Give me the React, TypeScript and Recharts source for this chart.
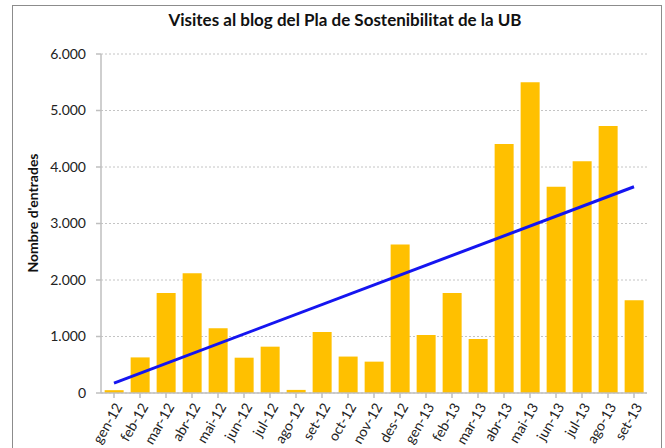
import { Bar, BarChart, CartesianGrid, ReferenceLine, XAxis, YAxis } from "recharts"

const months = [
  "gen-12", "feb-12", "mar-12", "abr-12", "mai-12", "jun-12", "jul-12",
  "ago-12", "set-12", "oct-12", "nov-12", "des-12", "gen-13", "feb-13",
  "mar-13", "abr-13", "mai-13", "jun-13", "jul-13", "ago-13", "set-13",
]

const visits = [
  50, 630, 1770, 2120, 1145, 625, 820,
  55, 1080, 645, 555, 2630, 1025, 1770,
  955, 4405, 5500, 3650, 4100, 4725, 1640,
]

const yTicks = [0, 1000, 2000, 3000, 4000, 5000, 6000]

// linear trend, read at the first and last month
const trendEnds = [175, 3650]

const data = months.map((m, i) => ({ month: m, visits: visits[i] }))

const font = "Lato, 'Open Sans', sans-serif"

const fmt = (v: number) => (v === 0 ? "0" : `${v / 1000}.000`)

function MonthTick(props: any) {
  const { x, y, payload } = props
  return (
    <text
      x={x + 4}
      y={y + 4}
      transform={`rotate(-60, ${x + 4}, ${y + 4})`}
      textAnchor="end"
      dominantBaseline="central"
      fontSize={14}
      fontFamily={font}
      fill="#222"
    >
      {payload.value}
    </text>
  )
}

export default function App() {
  return (
    <div style={{ position: "absolute", top: 0, left: 0, width: 665, height: 448, overflow: "hidden", background: "#fff" }}>
      <div style={{ position: "absolute", left: 12, top: 5, width: 648, height: 480, border: "1px solid #8c8c8c" }} />
      <div
        style={{
          position: "absolute", top: 9, left: 0, width: 690, textAlign: "center",
          fontFamily: font, fontWeight: 700, fontSize: 17, color: "#111",
        }}
      >
        Visites al blog del Pla de Sostenibilitat de la UB
      </div>
      <div
        style={{
          position: "absolute", left: 32, top: 213, width: 0, height: 0,
        }}
      >
        <div
          style={{
            position: "absolute", transform: "translate(-50%, -50%) rotate(-90deg)",
            whiteSpace: "nowrap", fontFamily: font, fontWeight: 700, fontSize: 14, color: "#111",
          }}
        >
          Nombre d'entrades
        </div>
      </div>
      <div style={{ position: "absolute", top: 0, left: 0 }}>
        <BarChart
          width={665}
          height={448}
          data={data}
          margin={{ top: 54, right: 18, left: 0, bottom: 0 }}
          barCategoryGap="14%"
        >
          <CartesianGrid vertical={false} stroke="#c4c4c4" strokeDasharray="2 2" />
          <XAxis
            dataKey="month"
            height={55}
            interval={0}
            tick={<MonthTick />}
            tickSize={5}
            stroke="#bfbfbf"
            strokeWidth={1.5}
          />
          <YAxis
            width={101}
            domain={[0, 6000]}
            ticks={yTicks}
            tickFormatter={fmt}
            tickSize={5}
            tickMargin={10}
            stroke="#bfbfbf"
            strokeWidth={1.5}
            tick={{ fontSize: 14, fontFamily: font, fill: "#222" }}
          />
          <Bar dataKey="visits" fill="#FFC000" isAnimationActive={false} />
          <ReferenceLine
            segment={[
              { x: months[0], y: trendEnds[0] },
              { x: months[months.length - 1], y: trendEnds[1] },
            ]}
            stroke="#1515f0"
            strokeWidth={3}
          />
        </BarChart>
      </div>
    </div>
  )
}
